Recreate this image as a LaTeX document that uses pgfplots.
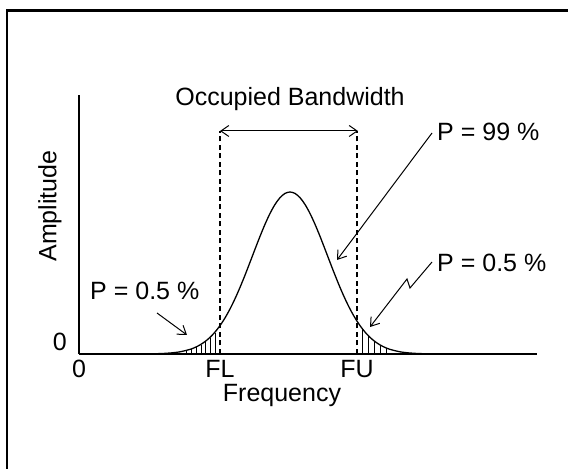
\documentclass[border=0pt]{standalone}
\usepackage{fontspec}
\setmainfont{Liberation Sans}
\usepackage{pgfplots}
\pgfplotsset{compat=1.18}
\usetikzlibrary{arrows.meta}
\begin{document}
\begin{tikzpicture}[x=1bp,y=1bp]
\useasboundingbox (-79,-115) rectangle (489,354);
% partial frame (scan border)
\draw[line width=2.5bp] (-72,-115) -- (-72,343.5) -- (489,343.5);
\begin{axis}[
  at={(0,0)}, anchor=south west,
  scale only axis, width=458bp, height=259bp,
  xmin=0, xmax=458, ymin=0, ymax=259,
  axis x line=bottom, axis y line=left,
  axis line style={-, line width=1.4bp},
  major tick length=0pt,
  xtick={0,141,278}, xticklabels={0,FL,FU},
  ytick={0}, yticklabels={0},
  /pgf/number format/assume math mode=true,
  tick label style={font=\fontsize{25bp}{30bp}\selectfont, inner sep=0pt},
  xticklabel style={anchor=north, yshift=-6bp},
  yticklabel style={anchor=east, xshift=-12bp, yshift=12bp},
  clip=false,
  every axis plot/.append style={line width=1.3bp},
  font=\fontsize{25bp}{30bp}\selectfont,
]
% spectrum curve
\addplot[black, smooth] coordinates {
(41,0) (66,0.09) (81,0.40) (91,0.97) (101,2.19) (111,4.63) (116,6.54) (121,9.09)
(126,12.41) (131,16.64) (136,21.92) (141,28.37) (146,36.07) (151,45.04) (156,55.26)
(161,66.60) (166,78.85) (171,91.72) (176,104.80) (181,117.64) (186,129.72) (191,140.52)
(196,149.55) (201,156.34) (206,160.57) (211,162) (216,160.57) (221,156.34) (226,149.55)
(231,140.52) (236,129.72) (241,117.64) (246,104.80) (251,91.72) (256,78.85) (261,66.60)
(266,55.26) (271,45.04) (276,36.07) (281,28.37) (286,21.92) (291,16.64) (296,12.41)
(301,9.09) (306,6.54) (311,4.63) (321,2.19) (331,0.97) (341,0.40) (356,0.09) (381,0)
};
% hatching of the tails
\addplot[black, ycomb, line width=0.9bp, mark=none] coordinates {
(107,3.2) (112,4.7) (117,6.7) (122,9.3) (126,12.0) (131,16.1) (136,21.3)
(283,25.0) (289,18.1) (295,12.7) (301,8.7) (307,5.8)
};
% band edges
\addplot[black, dashed, dash pattern=on 5bp off 3.5bp, line width=1.1bp] coordinates {(141,0) (141,223)};
\addplot[black, dashed, dash pattern=on 5bp off 3.5bp, line width=1.1bp] coordinates {(278,0) (278,223)};
% annotations
\draw[line width=1bp, {Straight Barb[length=8bp,width=11bp]}-{Straight Barb[length=8bp,width=11bp]}] (axis cs:141,223) -- (axis cs:279,223);
\node[anchor=base, inner sep=0pt] at (axis cs:211,248) {Occupied Bandwidth};
\node[anchor=base west, inner sep=0pt] at (axis cs:358,213) {P = 99 \%};
\draw[line width=1bp, -{Straight Barb[length=8bp,width=11bp]}] (axis cs:353,221) -- (axis cs:258,94);
\node[anchor=base west, inner sep=0pt] at (axis cs:358,82) {P = 0.5 \%};
\draw[line width=1bp, -{Straight Barb[length=8bp,width=11bp]}] (axis cs:353,92) -- (axis cs:331,66) -- (axis cs:328,75) -- (axis cs:291,27);
\node[anchor=base west, inner sep=0pt] at (axis cs:11,54) {P = 0.5 \%};
\draw[line width=1bp, -{Straight Barb[length=8bp,width=11bp]}] (axis cs:78,41) -- (axis cs:108,19);
\node[rotate=90, inner sep=0pt] at (axis cs:-29,148) {Amplitude};
\node[anchor=base, inner sep=0pt] at (axis cs:203,-47) {Frequency};
\end{axis}
\end{tikzpicture}
\end{document}
